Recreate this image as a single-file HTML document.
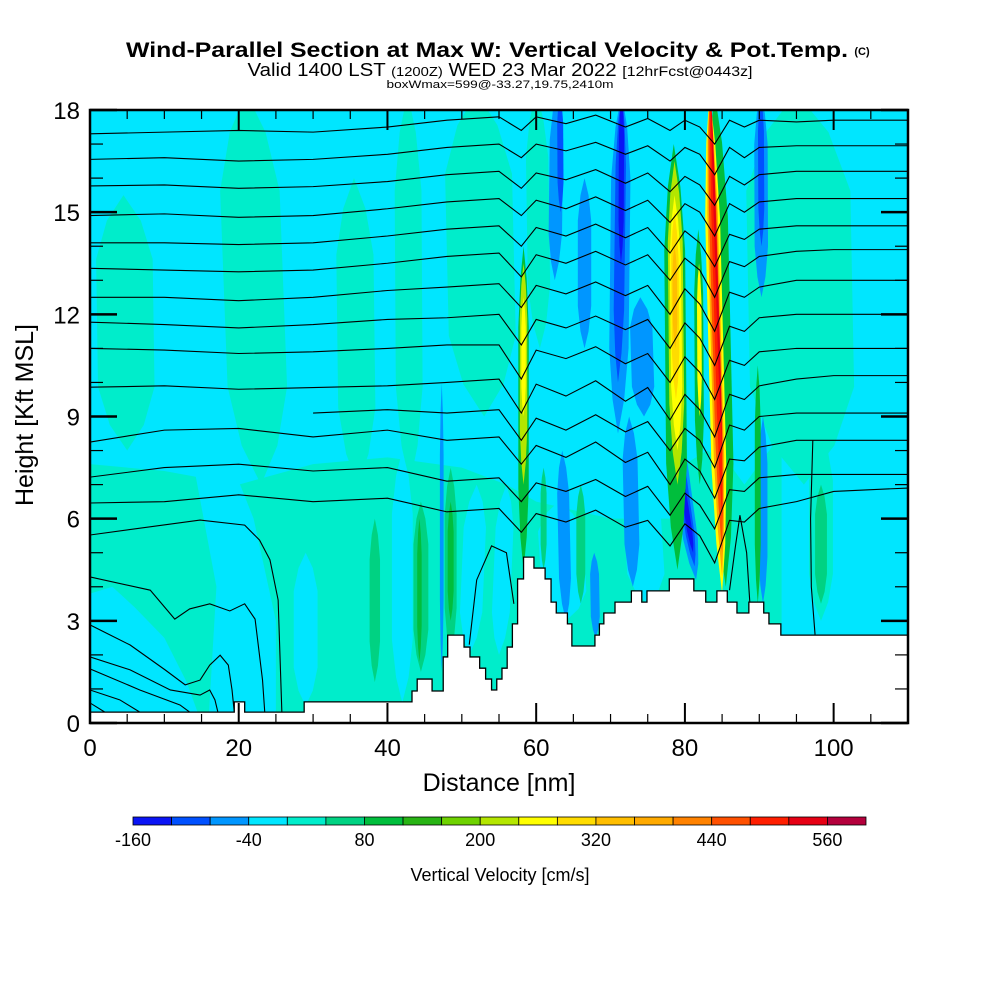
<!DOCTYPE html>
<html><head><meta charset="utf-8"><title>Wind-Parallel Section</title>
<style>html,body{margin:0;padding:0;background:#fff;}svg{display:block;font-family:"Liberation Sans",Arial,sans-serif;}</style>
</head><body>
<svg id="chart" width="1000" height="1000" viewBox="0 0 1000 1000" xmlns="http://www.w3.org/2000/svg">
<defs><clipPath id="plotclip"><rect x="90" y="110" width="818" height="613"/></clipPath></defs>
<text x="487" y="57" text-anchor="middle" font-size="21" font-weight="bold" textLength="722" lengthAdjust="spacingAndGlyphs">Wind-Parallel Section at Max W: Vertical Velocity &amp; Pot.Temp.</text>
<text x="862" y="55" text-anchor="middle" font-size="11" font-weight="bold">(C)</text>
<text x="500" y="76" text-anchor="middle" font-size="18" textLength="505" lengthAdjust="spacingAndGlyphs">Valid 1400 LST <tspan font-size="13">(1200Z)</tspan> WED 23 Mar 2022 <tspan font-size="14">[12hrFcst@0443z]</tspan></text>
<text x="500" y="88" text-anchor="middle" font-size="11" textLength="227" lengthAdjust="spacingAndGlyphs">boxWmax=599@-33.27,19.75,2410m</text>
<g id="plot" clip-path="url(#plotclip)"></g>
<g id="axes"></g>
<g id="cbar"></g>
<text x="499" y="791" text-anchor="middle" font-size="25">Distance [nm]</text>
<text transform="translate(33,415) rotate(-90)" text-anchor="middle" font-size="25">Height [Kft MSL]</text>
<text x="500" y="881" text-anchor="middle" font-size="18">Vertical Velocity [cm/s]</text>
</svg>
<script>
// ---- data ----
const palette = ["#0A14F5","#0050FF","#0096FF","#00E6FF","#00EDCB","#00D282","#00BE3C","#28B414","#6ED200","#B4E600","#FFFF00","#FFDC00","#FFBE00","#FFAA00","#FF8200","#FF5000","#FF1E00","#E60014","#B4003C"];
const cbarLabels = ["-160","-40","80","200","320","440","560"];
const cbarLabelIdx = [0,3,6,9,12,15,18];
const xTicks = [0,20,40,60,80,100];
const yTicks = [0,3,6,9,12,15,18];
// terrain steps: [end distance nm, height kft]
const terrain = [[19.4,0.32],[20.8,0.62],[28.8,0.32],[43.3,0.62],[44.0,0.94],[46.0,1.29],[47.5,0.94],[48.1,1.94],[50.3,2.58],[51.1,2.23],[52.4,1.94],[53.2,1.61],[54.0,1.29],[54.7,0.97],[55.4,1.29],[56.1,1.61],[56.8,2.23],[57.5,2.91],[58.3,4.23],[59.7,4.87],[61.2,4.55],[62.0,4.23],[62.7,3.55],[64.2,3.23],[64.8,2.91],[67.9,2.26],[68.5,2.58],[69.1,2.91],[70.6,3.23],[72.8,3.55],[74.2,3.88],[74.9,3.55],[77.9,3.88],[81.2,4.23],[82.8,3.88],[84.3,3.55],[85.7,3.88],[87.0,3.55],[88.6,3.23],[90.6,3.55],[91.3,3.23],[92.9,2.91],[110,2.58]];
// teal (and cyan pocket) regions: [color index, points nm/kft]
const regions = [
 [4,[[0,7.6],[10,7.4],[20,7.0],[30,7.6],[40,7.8],[50,7.5],[56,7.0],[60,6.5],[70,6.0],[80,6.0],[88,7.0],[93,8.5],[93,0],[0,0]]],
 [3,[[0,3.8],[3,4.0],[6,3.4],[10,2.5],[13,1.2],[15,0],[0,0]]],
 [3,[[16,0.3],[17,4],[14,7.5],[12,8.5],[18,8.2],[22,6],[25,3],[25,0.3]]]
];
// bands: [x bottom, h bottom, x top, h top, half-width nm, color index]
const bands = [
 [5,8,4.5,15.5,3.8,4],[23,7,21,18.5,4,4],[36,7,35.5,16,2.5,4],[43,7,42.7,18.5,1.8,4],[53,9,52,18.5,4.5,4],
 [60.5,11,60,18.5,1.5,4],[96,7,95,18.5,7,4],
 [29,0.5,29,5,1.6,3],[42,0.6,42,8,1.4,3],[51,2,52,7,1.5,3],[55,2,56,7,1.2,3],[64,3,63,6.5,3,3],[75,3.5,74,7,2.5,3],
 [83,4,83,8,5,4],
 [98.3,3,98.3,8.5,1.6,4],[98.3,3.5,98.3,7,0.8,5],
 [44.5,1.5,44.5,6.5,1.0,5],[44.3,1.8,44.3,6,0.3,6],[48.5,2.0,48.5,7.5,0.8,5],[48.5,3,48.5,6.5,0.4,6],[38.3,1.2,38.3,6,0.7,5],[66,3.5,66,7,0.6,5],[61,4.5,61,7.5,0.4,5],
 [47.3,1.5,47.3,10,0.25,2],
 [62.5,13,62.8,18.5,0.9,2],[63.3,15,63.2,18.5,0.4,1],
 [71,8.5,71.5,18.5,1.3,2],[71,10,71.5,18.5,0.7,1],[71.4,13.5,71.5,18.5,0.35,0],
 [74.5,9,74,12.5,1.5,2],[66.5,11,66.5,16,0.9,2],
 [73,4,72.5,9,1.0,2],[64,3,63.5,8,0.8,2],[90.5,3.5,90.5,9,0.6,2],[68,2.5,67.8,5,0.6,2],
 [81.5,4.2,78.5,9,1.0,2],[81.3,4.6,79,8.2,0.6,1],[81.1,5.0,79.3,7.5,0.35,0],
 [90.3,12.5,90.2,18.5,0.9,2],[90.3,14,90.2,18.5,0.4,1],
 [89.8,3.5,89.8,10.5,0.4,6],
 [58.3,4.5,58.3,14,0.7,6],[58.3,7,58.3,13.5,0.5,9],[58.3,9,58.3,12.5,0.3,10],
 [79,4.5,78.5,17,1.4,6],[79,7,78.6,16.5,1.0,9],[79,8,78.6,15.5,0.75,10],[78.8,9.5,78.6,15,0.5,11],[78.7,11,78.6,14,0.3,12],
 [82,7,81.8,14.5,0.6,6],[82,9,81.9,13.5,0.3,10],
 [85.5,4,84,18.5,1.4,6],[85,3.8,83.3,18.5,1.0,10],[85,4.3,83.3,18.5,0.7,13],[85,5,83.3,18.5,0.5,15],[85,6,83.4,18.5,0.3,16],[85,8,83.5,18.5,0.15,17]
];
// potential temperature contours sampled at these distances
const thetaX = [0,10,20,30,40,48,55,58,60,64,68,72,75,78,80,82,84,86,88,90,95,100,110];
const thetaLines = [
 [17.3,17.35,17.4,17.35,17.5,17.7,17.8,17.4,17.8,17.6,17.85,17.5,17.75,17.4,17.7,17.5,17.0,17.7,17.5,17.7,17.65,17.7,17.7],
 [16.55,16.6,16.5,16.55,16.7,16.9,17.0,16.6,17.0,16.8,17.05,16.7,16.95,16.5,16.9,16.7,16.1,16.9,16.6,16.9,16.95,16.95,16.95],
 [15.77,15.8,15.7,15.75,15.9,16.1,16.2,15.7,16.15,15.95,16.25,15.85,16.15,15.6,16.05,15.8,15.2,16.05,15.8,16.1,16.2,16.2,16.2],
 [14.9,14.95,14.85,14.9,15.1,15.3,15.4,14.9,15.35,15.1,15.45,15.05,15.35,14.7,15.25,15.0,14.3,15.25,15.0,15.3,15.4,15.4,15.4],
 [14.1,14.1,14.05,14.1,14.3,14.5,14.6,14.0,14.55,14.3,14.65,14.25,14.55,13.8,14.45,14.1,13.4,14.35,14.2,14.5,14.6,14.6,14.6],
 [13.35,13.3,13.25,13.3,13.5,13.7,13.8,13.1,13.75,13.5,13.85,13.45,13.75,13.0,13.65,13.3,12.5,13.55,13.4,13.7,13.85,13.9,13.9],
 [12.5,12.5,12.4,12.5,12.7,12.8,12.9,12.2,12.85,12.6,12.95,12.55,12.85,12.0,12.75,12.3,11.5,12.65,12.5,12.8,13.0,13.0,13.0],
 [11.77,11.7,11.6,11.7,11.85,11.9,12.0,11.1,11.85,11.6,11.95,11.55,11.85,11.0,11.75,11.3,10.5,11.65,11.5,11.9,12.0,12.0,12.0],
 [11.0,10.95,10.85,10.9,11.0,11.1,11.1,10.1,10.95,10.7,11.05,10.55,10.85,10.0,10.75,10.3,9.5,10.65,10.5,10.9,11.0,11.0,11.0],
 [9.86,9.9,9.8,9.85,9.9,10.0,10.1,9.1,9.95,9.6,10.05,9.45,9.85,8.9,9.65,9.2,8.4,9.65,9.5,9.9,10.1,10.2,10.2],
 [null,null,null,9.1,9.2,9.1,9.2,8.3,8.95,8.6,9.05,8.55,8.85,8.0,8.65,8.3,7.5,8.75,8.6,9.0,9.1,9.1,9.1],
 [8.25,8.6,8.65,8.4,8.6,8.3,8.4,7.6,8.15,7.8,8.25,7.65,7.95,7.0,7.75,7.4,6.6,7.75,7.7,8.1,8.3,8.3,8.3],
 [7.22,7.5,7.6,7.4,7.5,7.1,7.2,6.5,7.05,6.8,7.15,6.65,6.95,6.1,6.75,6.4,5.7,6.85,6.8,7.2,7.3,7.3,7.3],
 [6.46,6.5,6.7,6.5,6.6,6.2,6.3,5.6,6.15,5.9,6.25,5.75,5.95,5.2,5.85,5.5,4.7,5.95,5.9,6.3,6.5,6.8,6.9]
];
// near-ground contours as [nm, kft] point lists
const lowLines = [
 [[0,5.52],[14.8,5.96],[20.8,5.81],[22.8,5.37],[24.2,4.79],[25.3,3.61],[25.8,0.32]],
 [[0,4.29],[8.1,3.9],[11.4,3.05],[13.4,3.35],[16.1,3.5],[18.8,3.29],[20.8,3.5],[22.2,3.05],[23.2,1.26],[23.5,0.32]],
 [[0,2.88],[5.4,2.29],[10.1,1.56],[12.8,1.12],[14.8,1.26],[16.1,1.7],[17.5,1.99],[18.6,1.7],[19.1,0.97],[19.4,0.32]],
 [[0,1.94],[5.4,1.56],[10.8,0.97],[14.8,0.82],[16.1,0.97],[16.8,0.68],[17.2,0.32]],
 [[0,1.59],[6.7,0.97],[12.1,0.53],[13.4,0.32]],
 [[0,0.97],[4.0,0.68],[6.7,0.32]],
 [[0,0.59],[2.0,0.32]],
 [[97.2,8.3],[96.9,6],[97.0,4],[97.5,2.6]],
 [[51,2.3],[52,4.2],[54,5.2],[56,5.0],[57,3.5]],
 [[86,3.9],[86.8,5.2],[87.4,6.1],[88.3,5.0],[88.8,3.3]]
];
// ---- scales ----
const NS="http://www.w3.org/2000/svg";
const X = d => 90 + d*818/110;
const Y = h => 723 - h*613/18;
function mk(tag, attrs, parent){const e=document.createElementNS(NS,tag);for(const k in attrs)e.setAttribute(k,attrs[k]);parent.appendChild(e);return e;}
const plot=document.getElementById('plot'), axes=document.getElementById('axes'), cbar=document.getElementById('cbar');
let bg=mk('rect',{x:90,y:110,width:818,height:613,fill:palette[3]},plot);


regions.forEach(r=>{
 const p=mk('polygon',{points:r[1].map(q=>X(q[0])+','+Y(q[1])).join(' '),fill:palette[r[0]]},plot);
 
 
});
const tf=[0,0.1,0.25,0.75,0.9,1], wf=[0,0.6,1,1,0.6,0];
bands.forEach(b=>{
 const [xb,hb,xt,ht,hw,ci]=b; const w=hw*818/110; const L=[],R=[];
 tf.forEach((t,i)=>{const cx=X(xb+(xt-xb)*t), cy=Y(hb+(ht-hb)*t); L.push((cx-w*wf[i])+','+cy); R.unshift((cx+w*wf[i])+','+cy);});
 const p=mk('polygon',{points:L.concat(R).join(' '),fill:palette[ci]},plot);
 
 
});
thetaLines.forEach(line=>{
 const pts=[];line.forEach((v,i)=>{if(v!==null)pts.push(X(thetaX[i])+','+Y(v));});
 const p=mk('polyline',{points:pts.join(' '),fill:'none',stroke:'#000','stroke-width':1.1},plot);
 
 
});
lowLines.forEach(line=>{
 const p=mk('polyline',{points:line.map(q=>X(q[0])+','+Y(q[1])).join(' '),fill:'none',stroke:'#000','stroke-width':1.1},plot);
 
 
});
{const pts=[X(0)+','+Y(0)];let prev=0;terrain.forEach(s=>{pts.push(X(prev)+','+Y(s[1]));pts.push(X(s[0])+','+Y(s[1]));prev=s[0];});pts.push(X(110)+','+Y(0));
 const p=mk('polygon',{points:pts.join(' '),fill:'#fff',stroke:'#000','stroke-width':1.3},plot);
 
 }
// frame & ticks
let fr=mk('rect',{x:90,y:110,width:818,height:613,fill:'none',stroke:'#000','stroke-width':2.5},axes);


for(let d=0;d<=110;d+=5){const maj=d%20===0;const len=maj?20:9;
 mk('line',{x1:X(d),x2:X(d),y1:723,y2:723-len,stroke:'#000','stroke-width':maj?2:1.2},axes);
 mk('line',{x1:X(d),x2:X(d),y1:110,y2:110+len,stroke:'#000','stroke-width':maj?2:1.2},axes);}
for(let h=0;h<=18;h+=1){const maj=h%3===0;const len=maj?27:13;
 mk('line',{x1:90,x2:90+len,y1:Y(h),y2:Y(h),stroke:'#000','stroke-width':maj?2.5:1.2},axes);
 mk('line',{x1:908,x2:908-len,y1:Y(h),y2:Y(h),stroke:'#000','stroke-width':maj?2.5:1.2},axes);}
xTicks.forEach(v=>{const t=mk('text',{x:X(v),y:756,'text-anchor':'middle','font-size':24},axes);t.textContent=v;
 
 });
yTicks.forEach(v=>{const t=mk('text',{x:80,y:Y(v)+9,'text-anchor':'end','font-size':24},axes);t.textContent=v;
 
 });
// colorbar
const cw=733/palette.length;
palette.forEach((c,i)=>{const r=mk('rect',{x:133+i*cw,y:817,width:cw,height:8,fill:c,stroke:'#000','stroke-width':0.8},cbar);
 
 });
cbarLabels.forEach((l,i)=>{const t=mk('text',{x:133+cbarLabelIdx[i]*cw,y:846,'text-anchor':'middle','font-size':18},cbar);t.textContent=l;
 
 });
</script>
</body></html>
